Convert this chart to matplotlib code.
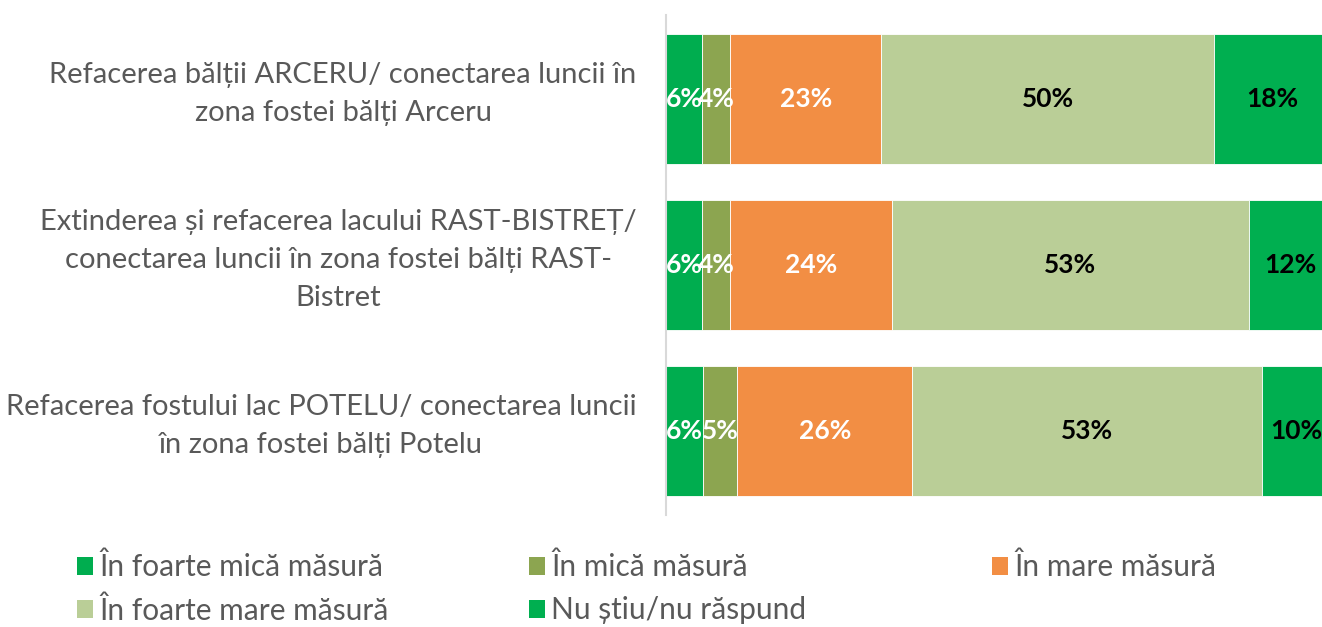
import matplotlib
matplotlib.use("Agg")
import matplotlib.pyplot as plt
from matplotlib.patches import Patch
from matplotlib.transforms import offset_copy
import numpy as np

plt.rcParams['font.family'] = ['Lato', 'DejaVu Sans']

### DATA ###

categories = [
    "Refacerea bălții ARCERU/ conectarea luncii în\nzona fostei bălți Arceru",
    "Extinderea și refacerea lacului RAST-BISTREȚ/\nconectarea luncii în zona fostei bălți RAST-\nBistret",
    "Refacerea fostului lac POTELU/ conectarea luncii\nîn zona fostei bălți Potelu",
]
series_names = ["În foarte mică măsură", "În mică măsură", "În mare măsură",
                "În foarte mare măsură", "Nu știu/nu răspund"]

# segment widths (percent), one list per answer
foarte_mica = [5.5, 5.5, 5.65]
mica = [4.2, 4.2, 5.1]
mare = [22.7, 24.3, 26.3]
foarte_mare = [50.0, 53.6, 52.55]
nu_stiu = [17.6, 12.4, 10.4]

# labels as printed on the bars
labels_foarte_mica = ["6%", "6%", "6%"]
labels_mica = ["4%", "4%", "5%"]
labels_mare = ["23%", "24%", "26%"]
labels_foarte_mare = ["50%", "53%", "53%"]
labels_nu_stiu = ["18%", "12%", "10%"]

colors = ["#00AD4F", "#8CA550", "#F28E44", "#BACE97", "#00AF50"]
text_colors = ["white", "white", "white", "black", "black"]

### PLOT ###

W, H = 1322, 627
fig = plt.figure(figsize=(W / 100, H / 100), dpi=100)
ax = fig.add_axes([665.7 / W, (H - 515) / H, 665.5 / W, 500 / H])

series = [foarte_mica, mica, mare, foarte_mare, nu_stiu]
series_labels = [labels_foarte_mica, labels_mica, labels_mare,
                 labels_foarte_mare, labels_nu_stiu]
y = np.arange(len(categories))
left = np.zeros(len(categories))
for vals, labs, col, tcol in zip(series, series_labels, colors, text_colors):
    vals = np.array(vals)
    bars = ax.barh(y, vals, left=left, height=0.78, color=col,
                   edgecolor="white", linewidth=0.6)
    ax.bar_label(bars, labels=labs, label_type="center", color=tcol,
                 fontsize=19, fontweight="bold")
    left += vals

ax.set_xlim(0, 100)
ax.set_ylim(2.506, -0.506)
ax.set_xticks([])
ax.set_yticks([])

# category labels: right-aligned block, lines centred
cat_tr = offset_copy(ax.get_yaxis_transform(), fig=fig, x=-29, y=5, units="dots")
for yi, cat in zip(y, categories):
    ax.text(0, yi, cat, transform=cat_tr, ha="right", va="center",
            multialignment="center", fontsize=21, color="#595959",
            linespacing=1.55)

for s in ["top", "right", "bottom"]:
    ax.spines[s].set_visible(False)
ax.spines["left"].set_color("#D9D9D9")
ax.spines["left"].set_linewidth(1.5)

# legend in three columns, placed individually
handles = [Patch(facecolor=c, edgecolor="none") for c in colors]
col_x = [77, 529, 992]
col_items = [[0, 3], [1, 4], [2]]
for cx, items in zip(col_x, col_items):
    fig.legend([handles[i] for i in items], [series_names[i] for i in items],
               loc="upper left", bbox_to_anchor=(cx / W, 1 - 553 / H),
               frameon=False, fontsize=21.5, labelcolor="#595959",
               handlelength=0.55, handleheight=0.55, handletextpad=0.2,
               labelspacing=0.5, borderpad=0, borderaxespad=0)

fig.savefig("out.png", dpi=100)
